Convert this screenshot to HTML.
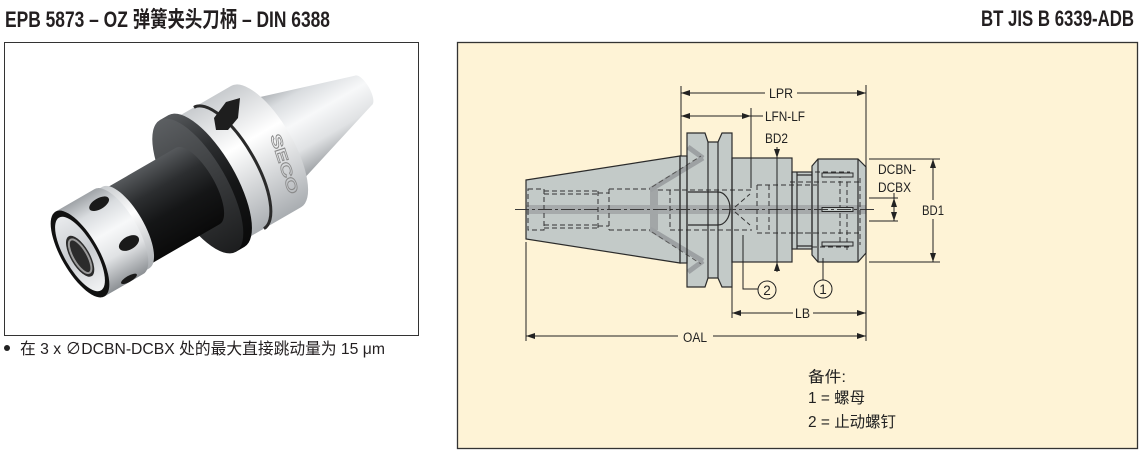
<!DOCTYPE html>
<html><head><meta charset="utf-8">
<style>
html,body{margin:0;padding:0;background:#fff;}
svg{display:block;}
text{font-family:"Liberation Sans","Noto Sans CJK SC",sans-serif;}
</style></head><body>
<svg width="1142" height="455" viewBox="0 0 1142 455" xmlns="http://www.w3.org/2000/svg">
<defs>
 <linearGradient id="sv" x1="0" y1="0" x2="0" y2="1">
  <stop offset="0" stop-color="#9fa3a7"/><stop offset="0.2" stop-color="#d9dcdf"/>
  <stop offset="0.45" stop-color="#f7f8f9"/><stop offset="0.7" stop-color="#e0e2e4"/>
  <stop offset="1" stop-color="#8c9094"/>
 </linearGradient>
 <linearGradient id="sv2" x1="0" y1="0" x2="0" y2="1">
  <stop offset="0" stop-color="#c8cbce"/><stop offset="0.4" stop-color="#ffffff"/>
  <stop offset="1" stop-color="#a9adb1"/>
 </linearGradient>
 <linearGradient id="dk" x1="0" y1="0" x2="0" y2="1">
  <stop offset="0" stop-color="#56595c"/><stop offset="0.3" stop-color="#2c2e30"/>
  <stop offset="0.6" stop-color="#151617"/><stop offset="1" stop-color="#0a0a0a"/>
 </linearGradient>
 <linearGradient id="ff" x1="0" y1="0" x2="0" y2="1">
  <stop offset="0" stop-color="#5c5f62"/><stop offset="0.5" stop-color="#3a3c3e"/>
  <stop offset="1" stop-color="#1c1d1e"/>
 </linearGradient>
 <linearGradient id="fc" x1="0" y1="0" x2="0" y2="1">
  <stop offset="0" stop-color="#e9ebed"/><stop offset="0.5" stop-color="#c9ccd0"/>
  <stop offset="1" stop-color="#f2f3f4"/>
 </linearGradient>
</defs>

<!-- headings -->
<text x="5" y="27" font-size="22" font-weight="bold" fill="#231f20" textLength="325" lengthAdjust="spacingAndGlyphs">EPB 5873 – OZ 弹簧夹头刀柄 – DIN 6388</text>
<text x="981" y="26" font-size="22" font-weight="bold" fill="#231f20" textLength="153" lengthAdjust="spacingAndGlyphs">BT JIS B 6339-ADB</text>

<!-- photo box -->
<rect x="4.5" y="42.5" width="414" height="293" fill="#fff" stroke="#333" stroke-width="1"/>
<g transform="translate(80,254) rotate(-30)">
 <path d="M215,-52 L327,-17 A6.5,17 0 0 1 327,17 L215,52 Z" fill="url(#sv)"/>
 <path d="M146,-70 H215 A26.6,70 0 0 1 215,70 H146 Z" fill="url(#sv2)"/>
 <path d="M172,-70 A26.6,70 0 0 1 172,70" fill="none" stroke="#2a2a2a" stroke-width="3"/>
 <path d="M136,-76 H146 A28.9,76 0 0 1 146,76 H136 Z" fill="url(#dk)"/>
 <ellipse cx="136" cy="0" rx="28.9" ry="76" fill="url(#ff)"/>
 <path d="M53,-44 H136 A16.7,44 0 0 1 136,44 H53 Z" fill="url(#dk)"/>
 <path d="M45,-47 H53 A17.9,47 0 0 1 53,47 H45 Z" fill="url(#sv2)"/>
 <path d="M0,-49 H45 A18.6,49 0 0 1 45,49 H0 Z" fill="url(#sv)"/>
 <ellipse cx="41.7" cy="-34" rx="11" ry="5.5" fill="#1a1a1a"/>
 <ellipse cx="47.9" cy="15" rx="11" ry="6.5" fill="#1a1a1a"/>
 <ellipse cx="30" cy="46" rx="9" ry="3" fill="#1a1a1a"/>
 <ellipse cx="0" cy="0" rx="18.6" ry="49" fill="#111"/>
 <ellipse cx="0" cy="0" rx="15.5" ry="42" fill="url(#fc)"/>
 <ellipse cx="-1" cy="2" rx="9.5" ry="23" fill="#2b2b2b"/>
 <ellipse cx="-1" cy="2" rx="7" ry="19" fill="none" stroke="#9a9a9a" stroke-width="2"/>
</g>
<polygon points="214,118 226,102 240,98 238,118 228,130 216,130" fill="#1e1e1e"/>
<text transform="translate(270,136) rotate(72)" font-size="15" font-weight="bold" fill="none" stroke="#8a8a8a" stroke-width="0.8" textLength="62" lengthAdjust="spacingAndGlyphs">SECO</text>

<!-- bullet note -->
<circle cx="7" cy="348" r="3" fill="#222"/>
<text x="20" y="354" font-size="16" fill="#231f20" textLength="365" lengthAdjust="spacingAndGlyphs">在 3 x ∅DCBN-DCBX 处的最大直接跳动量为 15 μm</text>

<!-- diagram box -->
<rect x="457.5" y="42.5" width="680" height="406" fill="#fef3d6" stroke="#333" stroke-width="1.3"/>

<!-- part fills -->
<g fill="#c3cac8" stroke="none">
 <polygon points="526,180 680,156 680,263 526,239"/>
 <rect x="680" y="156" width="7" height="107"/>
 <path d="M687,133 H705 L708,142 H718 L722,133 H732 V287 H722 L718,278 H708 L705,287 H687 Z"/>
 <rect x="732" y="158" width="60" height="104"/>
 <rect x="792" y="172" width="20" height="77"/>
 <polygon points="812,166 818,159 858,159 866,167 866,253 858,262 818,262 812,255"/>
</g>
<rect x="526" y="205" width="340" height="9" fill="#a6aaab"/>
<rect x="650" y="189" width="8" height="41" fill="#a2a6a7"/>
<g stroke="#9da1a3" stroke-width="5" fill="none">
 <polyline points="650,190 703,158"/><polyline points="688,147 703,158"/>
 <polyline points="650,229 703,261"/><polyline points="688,272 703,261"/>
</g>
<g stroke="#555" stroke-width="1" fill="none" stroke-dasharray="5,3">
 <polyline points="652,187 701,156"/><polyline points="652,232 701,264"/>
</g>

<!-- hidden lines -->
<g stroke="#333" stroke-width="1" fill="none" stroke-dasharray="5,3">
 <path d="M528,189 H544 V230 H528 Z"/>
 <path d="M544,191 H598 M544,194 H598 M544,225 H598 M544,228 H598"/>
 <path d="M598,191 V228 M598,193 H609 M598,226 H609 M609,189 V230"/>
 <path d="M609,189 H650 M609,230 H650"/>
 <path d="M658,190 H752 M670,230 H752 M670,190 V230"/>
 <path d="M757,185 H817 M757,233 H817 M757,185 V233 M769,185 V233"/>
 <path d="M815,172 H850 M790,182 H862 M790,233 H862 M812,247 H850"/>
 <path d="M840,173 V247 M847,182 V250 M860,178 V245"/>
 <path d="M735,207 L750,194 M735,212 L750,225"/>
</g>

<!-- outlines -->
<g stroke="#2b2b2b" stroke-width="1.2" fill="none">
 <polygon points="526,180 680,156 680,263 526,239"/>
 <rect x="680" y="156" width="7" height="107"/>
 <path d="M687,133 H705 L708,142 H718 L722,133 H732 V287 H722 L718,278 H708 L705,287 H687 Z"/>
 <path d="M708,142 V278 M718,142 V278"/>
 <rect x="732" y="158" width="60" height="104"/>
 <rect x="792" y="172" width="20" height="77"/>
 <path d="M797,172 V249 M797,175 H812 M797,246 H812"/>
 <polygon points="812,166 818,159 858,159 866,167 866,253 858,262 818,262 812,255"/>
 <path d="M818,159 V262 M858,159 V262"/>
 <path d="M688,192 H718 A12,16.5 0 0 1 718,225 H688"/>
</g>
<g fill="#c3cac8" stroke="#2b2b2b" stroke-width="1">
 <rect x="822" y="173" width="31" height="4"/>
 <rect x="822" y="207.5" width="31" height="4"/>
 <rect x="822" y="242" width="31" height="4"/>
</g>

<!-- centerline -->
<line x1="515" y1="209.5" x2="876" y2="209.5" stroke="#3a3a3a" stroke-width="1" stroke-dasharray="14,3,3,3"/>

<!-- dimensions -->
<g stroke="#222" stroke-width="1" fill="none">
 <path d="M681,93 H765 M797,93 H866"/>
 <path d="M681,86 V156 M866,85 V341"/>
 <path d="M681,116 H763 M751,108 V188"/>
 <path d="M777,147 V272"/>
 <path d="M869,198 H898 M869,221 H898 M894,193 V221"/>
 <path d="M869,159 H940 M869,262 H940 M933,159 V200 M933,219 V262"/>
 <path d="M732,313 H793 M813,313 H866 M732,287 V318"/>
 <path d="M526,336 H678 M713,336 H866 M526,242 V341"/>
 <path d="M743,235 V289 H758 M823,258 V280"/>
 <circle cx="767" cy="290" r="9"/>
 <circle cx="823" cy="289" r="9"/>
</g>
<g fill="#222">
 <polygon points="681,93 690,90 690,96"/><polygon points="866,93 857,90 857,96"/>
 <polygon points="681,116 690,113 690,119"/><polygon points="751,116 742,113 742,119"/>
 <polygon points="777,158 774,149 780,149"/><polygon points="777,262 774,271 780,271"/>
 <polygon points="894,198 891,207 897,207"/><polygon points="894,221 891,212 897,212"/>
 <polygon points="933,159 930,168 936,168"/><polygon points="933,262 930,253 936,253"/>
 <polygon points="732,313 741,310 741,316"/><polygon points="866,313 857,310 857,316"/>
 <polygon points="526,336 535,333 535,339"/><polygon points="866,336 857,333 857,339"/>
</g>
<g font-size="13.5" fill="#222">
 <text x="769" y="98" textLength="24" lengthAdjust="spacingAndGlyphs">LPR</text>
 <text x="765" y="121" textLength="40" lengthAdjust="spacingAndGlyphs">LFN-LF</text>
 <text x="765" y="143" textLength="23" lengthAdjust="spacingAndGlyphs">BD2</text>
 <text x="878" y="174" textLength="38" lengthAdjust="spacingAndGlyphs">DCBN-</text>
 <text x="878" y="192" textLength="33" lengthAdjust="spacingAndGlyphs">DCBX</text>
 <text x="922" y="215" textLength="22" lengthAdjust="spacingAndGlyphs">BD1</text>
 <text x="795" y="318" textLength="15" lengthAdjust="spacingAndGlyphs">LB</text>
 <text x="683" y="342" textLength="24" lengthAdjust="spacingAndGlyphs">OAL</text>
 <text x="767" y="295" text-anchor="middle">2</text>
 <text x="823" y="294" text-anchor="middle">1</text>
</g>

<!-- legend -->
<g font-size="15.5" fill="#222">
 <text x="808" y="382" textLength="38" lengthAdjust="spacingAndGlyphs">备件:</text>
 <text x="808" y="403" textLength="57" lengthAdjust="spacingAndGlyphs">1 = 螺母</text>
 <text x="808" y="427" textLength="88" lengthAdjust="spacingAndGlyphs">2 = 止动螺钉</text>
</g>
</svg>
</body></html>
